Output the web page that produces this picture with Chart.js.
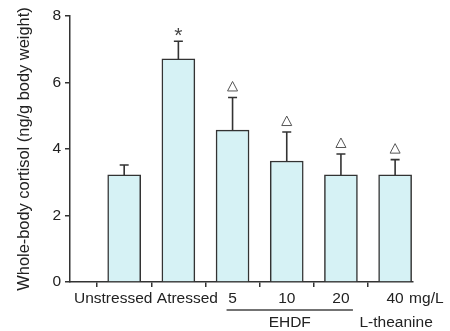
<!DOCTYPE html>
<html>
<head>
<meta charset="utf-8">
<script src="https://cdn.jsdelivr.net/npm/chart.js@4.4.1/dist/chart.umd.min.js"></script>
<style>
  html, body { margin: 0; padding: 0; background: #fff; }
</style>
</head>
<body>
<canvas id="cortisol-chart" width="450" height="331"></canvas>
<script>
let categories = ["Unstressed", "Atressed", "5", "10", "20", "40"];
let cortisol = [3.22, 6.71, 4.57, 3.64, 3.22, 3.22];
let sem = [0.30, 0.53, 0.98, 0.87, 0.63, 0.46];
let marks = ["", "*", "tri", "tri", "tri", "tri"];
let yTicks = [0, 2, 4, 6, 8];
let groups = [
  { label: "EHDF", first: 2, last: 4, underline: true },
  { label: "L-theanine", first: 5, last: 5, underline: false }
];
let unit = "mg/L";

let ink = "#333333";
let textColor = "#222222";
let fontFamily = "'Liberation Sans', Arial, sans-serif";

// small nudges so the two long labels don't collide
let labelNudge = [-11, 9, 0, 0, 0, 0];

let extras = {
  id: "extras",
  afterDatasetsDraw(chart) {
    let ctx = chart.ctx;
    let x = chart.scales.x, y = chart.scales.y;
    ctx.save();
    ctx.strokeStyle = ink;
    ctx.lineWidth = 1.6;
    cortisol.forEach(function(v, i) {
      let px = x.getPixelForValue(i + 1);
      let top = y.getPixelForValue(v);
      let errTop = y.getPixelForValue(v + sem[i]);
      ctx.beginPath();
      ctx.moveTo(px, top);
      ctx.lineTo(px, errTop);
      ctx.moveTo(px - 4.5, errTop);
      ctx.lineTo(px + 4.5, errTop);
      ctx.stroke();

      if (marks[i] === "*") {
        ctx.fillStyle = "#444";
        ctx.font = "21px " + fontFamily;
        ctx.textAlign = "center";
        ctx.textBaseline = "alphabetic";
        ctx.fillText("*", px, errTop + 1);
      } else if (marks[i] === "tri") {
        ctx.save();
        ctx.strokeStyle = "#555";
        ctx.lineWidth = 1;
        ctx.beginPath();
        ctx.moveTo(px - 5, errTop - 6.5);
        ctx.lineTo(px + 5, errTop - 6.5);
        ctx.lineTo(px, errTop - 16);
        ctx.closePath();
        ctx.stroke();
        ctx.restore();
      }
    });
    ctx.restore();
  },
  afterDraw(chart) {
    let ctx = chart.ctx;
    let x = chart.scales.x;
    let base = chart.chartArea.bottom;
    ctx.save();
    ctx.fillStyle = textColor;
    ctx.font = "15.5px " + fontFamily;
    ctx.textBaseline = "alphabetic";
    ctx.textAlign = "center";
    categories.forEach(function(c, i) {
      ctx.fillText(c, x.getPixelForValue(i + 1) + labelNudge[i], base + 21);
    });
    ctx.textAlign = "left";
    ctx.fillText(unit, x.getPixelForValue(6) + 14, base + 21);

    ctx.textAlign = "center";
    groups.forEach(function(g) {
      let a = x.getPixelForValue(g.first + 1);
      let b = x.getPixelForValue(g.last + 1);
      if (g.underline) {
        ctx.strokeStyle = "#444";
        ctx.lineWidth = 1.5;
        ctx.beginPath();
        ctx.moveTo(a - 6, base + 28);
        ctx.lineTo(b + 12, base + 28);
        ctx.stroke();
      }
      ctx.fillText(g.label, (a + b) / 2 + (g.underline ? 3 : 1), base + 45);
    });
    ctx.restore();
  }
};

let ctx = document.getElementById("cortisol-chart");
let chart = new Chart(ctx, {
  type: "bar",
  data: {
    datasets: [{
      data: cortisol.map((v, i) => ({ x: i + 1, y: v })),
      backgroundColor: "#d6f2f5",
      borderColor: ink,
      borderWidth: 1.5,
      barThickness: 33
    }]
  },
  options: {
    responsive: false,
    animation: false,
    layout: { padding: { top: 16, right: 37, bottom: 0, left: 0 } },
    plugins: { legend: { display: false }, tooltip: { enabled: false } },
    scales: {
      x: {
        type: "linear",
        min: 0,
        max: 6.33,
        offset: false,
        afterBuildTicks: function(scale) {
          scale.ticks = categories.map((c, i) => ({ value: i + 1 }));
        },
        afterFit: function(scale) { scale.height = 49; },
        ticks: { display: false },
        grid: { drawOnChartArea: false, drawTicks: true, tickLength: 5, color: ink, lineWidth: 1.5 },
        border: { color: ink, width: 1.5 }
      },
      y: {
        min: 0,
        max: 8,
        afterBuildTicks: function(scale) {
          scale.ticks = yTicks.map(v => ({ value: v }));
        },
        afterFit: function(scale) { scale.width = 70; },
        ticks: { color: textColor, font: { size: 15.5, family: fontFamily }, padding: 4 },
        grid: { drawOnChartArea: false, drawTicks: true, tickLength: 5, color: ink, lineWidth: 1.5 },
        border: { color: ink, width: 1.5 },
        title: {
          display: true,
          text: "Whole-body cortisol (ng/g body weight)",
          color: textColor,
          font: { size: 16.4, family: fontFamily },
          padding: { top: 15, bottom: 0 }
        }
      }
    }
  },
  plugins: [extras]
});
</script>
</body>
</html>
